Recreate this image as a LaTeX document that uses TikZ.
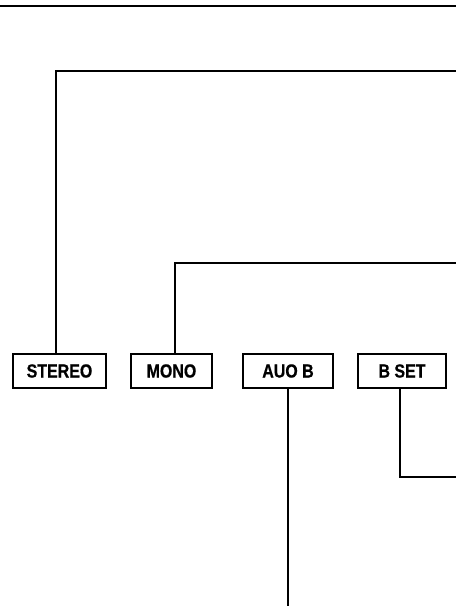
\documentclass[tikz,border=0pt]{standalone}
\usepackage{fontspec}
\newfontfamily\keyfont[FakeStretch=0.84,FakeBold=0.6]{Liberation Sans}
\tikzset{
  keybox/.style={draw, line width=1.6pt, inner sep=0pt, minimum height=34pt,
    font=\keyfont\bfseries\fontsize{19}{19}\selectfont},
  wire/.style={line width=1.1pt}
}
\begin{document}
\begin{tikzpicture}[x=1pt,y=-1pt]
\useasboundingbox (0,0) rectangle (456,609);
% switch labels
\node[keybox, minimum width=93pt] (stereo) at (59.5,371) {STEREO};
\node[keybox, minimum width=81pt] (mono) at (171.5,371) {MONO};
\node[keybox, minimum width=90pt] (auob) at (288,371) {AUO B};
\node[keybox, minimum width=88pt] (bset) at (402,371) {B SET};
% free ends of the wires
\coordinate (topl) at (0,6);
\coordinate (topr) at (456,6);
\coordinate (stereoend) at (456,71);
\coordinate (monoend) at (456,263);
\coordinate (auobend) at (288,606);
\coordinate (bsetend) at (456,477);
% wires
\draw[wire] (topl) -- (topr);
\draw[wire] ([xshift=-3.5pt]stereo.north) |- (stereoend);
\draw[wire] ([xshift=3.5pt]mono.north) |- (monoend);
\draw[wire] (auob.south) -- (auobend);
\draw[wire] ([xshift=-2pt]bset.south) |- (bsetend);
\end{tikzpicture}
\end{document}
